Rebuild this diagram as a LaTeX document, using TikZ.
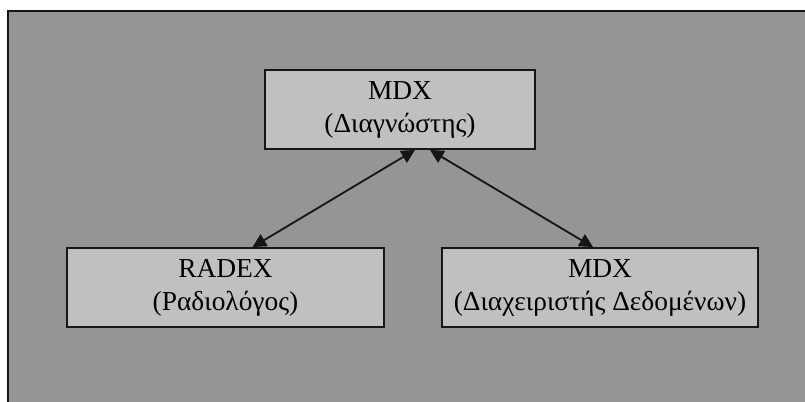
\documentclass[tikz,border=0pt]{standalone}
\usepackage{fontspec}
\setmainfont{Liberation Serif}
\usetikzlibrary{arrows.meta,positioning,calc}
\definecolor{panel}{RGB}{149,149,149}
\definecolor{boxfill}{RGB}{192,192,192}
\definecolor{rim}{RGB}{22,22,22}

\tikzset{
  entity/.style={draw=rim,fill=boxfill,line width=1.3pt,align=center,inner sep=0pt,
                 minimum height=1.975cm,font=\fontsize{19.5}{23.5}\selectfont},
  link/.style={rim,line width=1.3pt,
               {Triangle[length=3.4mm,width=3.4mm]}-{Triangle[length=3.4mm,width=3.4mm]}}
}

\begin{document}
\begin{tikzpicture}[scale=1.0]
  \useasboundingbox (0,0) rectangle (20.125,10.05);
  \fill[white] (0,0) rectangle (20.125,10.05);
  % grey panel, open on the right and at the bottom
  \fill[panel] (0.2,-1) rectangle (21,9.775);
  \draw[rim,line width=1.6pt] (0.2,-1) |- (21,9.775);
  % the three systems
  \node[entity,minimum width=6.75cm] (diag) at (10.0,7.3125) {MDX\\(Διαγνώστης)};
  \node[entity,minimum width=7.925cm] (radex) at (5.6375,2.8625) {RADEX\\(Ραδιολόγος)};
  \node[entity,minimum width=7.9cm] (datamgr) at (15.0,2.8625) {MDX\\(Διαχειριστής Δεδομένων)};
  % two-way links
  \draw[link] ([xshift=0.375cm]diag.south) -- ([xshift=0.675cm]radex.north);
  \draw[link] ([xshift=0.75cm]diag.south) -- ([xshift=-0.175cm]datamgr.north);
\end{tikzpicture}
\end{document}
